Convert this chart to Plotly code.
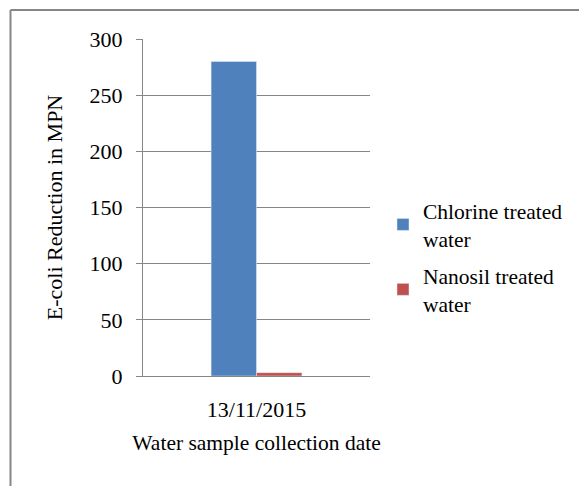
import plotly.graph_objects as go

categories = ["13/11/2015"]
chlorine = [280]
nanosil = [3]
series_names = ["Chlorine treated<br>water", "Nanosil treated<br>water"]
y_ticks = [0, 50, 100, 150, 200, 250, 300]

# page has an 8px body margin, so the figure is offset by 8px
W, H = 571, 478
L, R, T, B = 135, 362, 31, 368

fig = go.Figure()
fig.add_trace(go.Bar(x=categories, y=chlorine, name=series_names[0], marker_color="#4F81BD",
                     legendgroup="a"))
fig.add_trace(go.Bar(x=categories, y=nanosil, name=series_names[1], marker_color="#C0504D",
                     legendgroup="b"))

fam = "Liberation Serif, Times New Roman, serif"
font = dict(family=fam, size=22, color="#000000")
pw, ph = R - L, B - T

fig.update_layout(
    width=W, height=H,
    margin=dict(l=L, r=W - R, t=T, b=H - B, pad=0, autoexpand=False),
    paper_bgcolor="white", plot_bgcolor="white",
    barmode="group", bargap=0.6, bargroupgap=0,
    font=font,
    showlegend=True,
    legend=dict(x=(375 - L) / pw, y=(B - 182) / ph, xanchor="left", yanchor="top",
                font=dict(family=fam, size=21.5, color="#000000"),
                traceorder="grouped", tracegroupgap=6,
                itemwidth=30, bgcolor="rgba(0,0,0,0)"),
    xaxis=dict(showline=True, linecolor="#868686", linewidth=1,
               ticks="outside", ticklen=14, tickcolor="rgba(0,0,0,0)",
               title=dict(text="Water sample collection date", standoff=13,
                          font=dict(family=fam, size=21.5, color="#000000")),
               tickfont=font),
    yaxis=dict(range=[0, 300], tickvals=y_ticks, showgrid=True, gridcolor="#868686",
               gridwidth=1, showline=True, linecolor="#868686", linewidth=1,
               ticks="outside", ticklen=6, tickcolor="#868686", zeroline=False,
               ticklabelstandoff=9,
               title=dict(text="E-coli Reduction in MPN", standoff=20, font=font),
               tickfont=font),
)
# outer frame: only left and top edges are visible in the reference
fx0 = (2.5 - L) / pw
fy1 = (B - 2) / ph
frame = dict(color="#868686", width=2)
fig.add_shape(type="line", xref="paper", yref="paper",
              x0=fx0, x1=fx0, y0=(B - H) / ph, y1=fy1, line=frame, layer="below")
fig.add_shape(type="line", xref="paper", yref="paper",
              x0=fx0, x1=(W - L) / pw, y0=fy1, y1=fy1, line=frame, layer="below")
fig.write_html("out.html")
